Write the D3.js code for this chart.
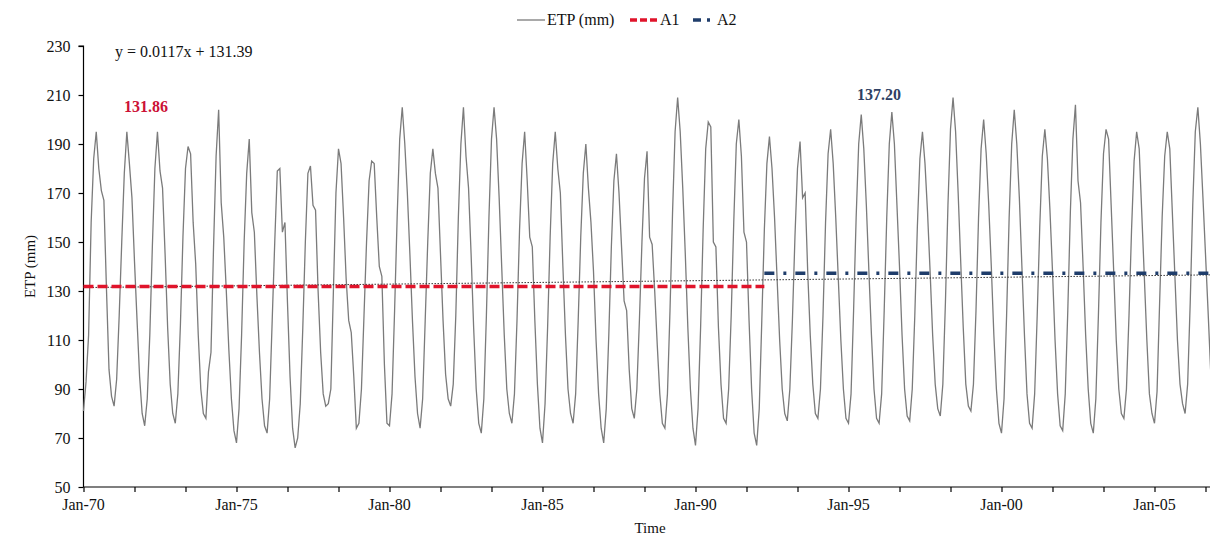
<!DOCTYPE html>
<html><head><meta charset="utf-8">
<script src="https://cdn.jsdelivr.net/npm/d3@7"></script>
<style>html,body{margin:0;padding:0;background:#fff;overflow:hidden}svg{display:block}</style>
</head><body>
<script>
// ---- data ----
const startYear = 1970;
const monthNames = ["Jan","Feb","Mar","Apr","May","Jun","Jul","Aug","Sep","Oct","Nov","Dec"];
const etp1970s = [
 [81, 93, 112, 158, 184, 195, 180, 171, 167, 131, 98, 87],
 [83, 94, 120, 150, 178, 195, 182, 168, 142, 118, 95, 80],
 [75, 86, 112, 148, 180, 195, 179, 172, 145, 115, 92, 80],
 [76, 88, 116, 152, 180, 189, 186, 158, 141, 112, 90, 80],
 [78, 97, 105, 148, 185, 204, 166, 152, 130, 106, 86, 73],
 [68, 82, 112, 150, 178, 192, 162, 154, 128, 105, 86, 75],
 [72, 86, 118, 150, 179, 180, 154, 158, 125, 95, 74, 66],
 [70, 84, 115, 150, 178, 181, 165, 163, 130, 105, 88, 83],
 [84, 90, 130, 170, 188, 182, 160, 135, 118, 113, 95, 74],
 [76, 90, 120, 150, 175, 183, 182, 160, 140, 136, 100, 76]
];
const etp1980s = [
 [75, 88, 122, 160, 192, 205, 190, 170, 145, 118, 95, 80],
 [74, 86, 118, 150, 178, 188, 178, 172, 145, 118, 96, 86],
 [83, 92, 120, 160, 190, 205, 185, 172, 145, 115, 90, 76],
 [72, 86, 120, 160, 192, 205, 192, 168, 140, 112, 90, 80],
 [76, 88, 118, 155, 182, 195, 175, 152, 148, 118, 92, 74],
 [68, 84, 115, 152, 182, 195, 180, 170, 140, 112, 90, 80],
 [76, 88, 118, 152, 178, 190, 172, 158, 138, 110, 88, 74],
 [68, 82, 112, 148, 175, 186, 170, 148, 126, 122, 98, 82],
 [78, 90, 118, 150, 176, 187, 152, 149, 130, 108, 88, 76],
 [74, 88, 122, 162, 195, 209, 195, 172, 145, 115, 90, 74]
];
const etp1990s = [
 [67, 82, 115, 155, 188, 199, 197, 150, 148, 115, 92, 78],
 [76, 90, 120, 158, 190, 200, 185, 154, 150, 118, 90, 72],
 [67, 82, 118, 155, 182, 193, 180, 160, 135, 110, 90, 80],
 [77, 90, 118, 152, 180, 191, 168, 170, 138, 112, 92, 80],
 [78, 90, 120, 158, 186, 196, 182, 160, 135, 110, 90, 78],
 [76, 88, 122, 160, 190, 202, 188, 165, 138, 112, 90, 78],
 [76, 88, 122, 160, 190, 203, 190, 165, 140, 112, 90, 79],
 [77, 90, 120, 156, 184, 195, 182, 162, 138, 112, 92, 82],
 [79, 92, 125, 165, 196, 209, 195, 170, 142, 115, 92, 83],
 [81, 92, 122, 160, 188, 200, 186, 165, 140, 112, 90, 76]
];
const etp2000s = [
 [72, 86, 120, 160, 190, 204, 190, 168, 140, 112, 88, 76],
 [74, 88, 120, 156, 185, 196, 184, 163, 138, 110, 88, 75],
 [73, 88, 122, 162, 192, 206, 175, 166, 140, 112, 90, 76],
 [72, 86, 120, 158, 186, 196, 192, 165, 138, 110, 90, 80],
 [78, 90, 120, 155, 183, 195, 188, 162, 136, 110, 88, 80],
 [76, 89, 125, 160, 185, 195, 188, 162, 136, 110, 92, 84],
 [80, 92, 125, 165, 195, 205, 190, 168, 145, 122, 98, 84]
];
const a1Value = 131.86, a2Value = 137.20;
const breakMonth = 267;           // A1 / A2 split (month index)
const trendSlope = 0.0117, trendIntercept = 131.39;
const yTicks = [50, 70, 90, 110, 130, 150, 170, 190, 210, 230];
const xTickMonths = [0,20,40,60,80,100,120,140,160,180,200,220,240,260,280,300,320,340,360,380,400,420,440];
const xLabelMonths = [0, 60, 120, 180, 240, 300, 360, 420];
const xLabels = ["Jan-70","Jan-75","Jan-80","Jan-85","Jan-90","Jan-95","Jan-00","Jan-05"];
const legendItems = ["ETP (mm)", "A1", "A2"];

// ---- build series ----
const series = [];
[etp1970s, etp1980s, etp1990s, etp2000s].flat().forEach((row) => {
  row.forEach(v => series.push({m: series.length, v}));
});
const nMonths = series.length;

// ---- chart ----
const W = 1210, H = 535;
const svg = d3.select("body").append("svg").attr("width", W).attr("height", H)
  .style("font-family", "'Liberation Serif','Times New Roman',serif");

const x = d3.scaleLinear().domain([0, 444]).range([83.5, 83.5 + 444 * 2.55]);
const y = d3.scaleLinear().domain([50, 230]).range([487, 46]);

// y axis
const yAxis = d3.axisLeft(y).tickValues(yTicks).tickSize(5).tickPadding(8).tickFormat(d3.format("d"));
const gy = svg.append("g").attr("transform", `translate(${x(0)},0)`).call(yAxis);
gy.select(".domain").attr("stroke", "#000").attr("stroke-width", 1.2).attr("d", `M-5,${y(230)}H0V${y(50)}`);
gy.selectAll(".tick line").attr("stroke", "#000").attr("stroke-width", 1.2);
gy.selectAll(".tick text").attr("font-size", 16).attr("fill", "#111").attr("font-family", "'Liberation Serif',serif");

// x axis
const xAxis = d3.axisBottom(x).tickValues(xTickMonths).tickSize(5).tickFormat("");
const gx = svg.append("g").attr("transform", `translate(0,${y(50)})`).call(xAxis);
gx.select(".domain").attr("stroke", "#000").attr("stroke-width", 1.2).attr("d", `M${x(0)},0H${x(444)}`);
gx.selectAll(".tick line").attr("stroke", "#000").attr("stroke-width", 1.2);
svg.append("g").selectAll("text").data(xLabelMonths).join("text")
  .attr("x", d => x(d)).attr("y", 510).attr("text-anchor", "middle")
  .attr("font-size", 16).attr("fill", "#111")
  .text((d, i) => xLabels[i]);

// axis titles
svg.append("text").attr("x", 650).attr("y", 533).attr("text-anchor", "middle")
  .attr("font-size", 15).attr("fill", "#111").text("Time");
svg.append("text").attr("transform", `translate(35,${(y(50)+y(230))/2}) rotate(-90)`)
  .attr("text-anchor", "middle").attr("font-size", 15).attr("fill", "#111").text("ETP (mm)");

// ETP line
const line = d3.line().x(d => x(d.m)).y(d => y(d.v));
svg.append("path").datum(series).attr("d", line)
  .attr("fill", "none").attr("stroke", "#7b7b7b").attr("stroke-width", 1.3);

// trend line
const trend = [0, nMonths - 1].map(m => ({m, v: trendSlope * (m + 1) + trendIntercept}));
svg.append("path").datum(trend).attr("d", line)
  .attr("fill", "none").attr("stroke", "#333").attr("stroke-width", 1).attr("stroke-dasharray", "1.5,1.5");

// A1 and A2
svg.append("path").datum([{m: 0, v: a1Value}, {m: breakMonth, v: a1Value}]).attr("d", line)
  .attr("fill", "none").attr("stroke", "#e0142b").attr("stroke-width", 3.5).attr("stroke-dasharray", "10,4");
svg.append("path").datum([{m: breakMonth, v: a2Value}, {m: nMonths - 1, v: a2Value}]).attr("d", line)
  .attr("fill", "none").attr("stroke", "#1f3d6b").attr("stroke-width", 3.5).attr("stroke-dasharray", "10,9,3,9");

// annotations
svg.append("text").attr("x", 115).attr("y", 57).attr("font-size", 16).attr("fill", "#111")
  .text(`y = ${trendSlope}x + ${trendIntercept}`);
svg.append("text").attr("x", 124).attr("y", 112).attr("font-size", 16).attr("font-weight", "bold")
  .attr("fill", "#cc1236").text(a1Value.toFixed(2));
svg.append("text").attr("x", 857).attr("y", 100).attr("font-size", 16).attr("font-weight", "bold")
  .attr("fill", "#2e3f63").text(a2Value.toFixed(2));

// legend
const lg = svg.append("g").attr("font-size", 16).attr("fill", "#111");
lg.append("line").attr("x1", 517).attr("x2", 545).attr("y1", 20).attr("y2", 20)
  .attr("stroke", "#7b7b7b").attr("stroke-width", 1.3);
lg.append("text").attr("x", 547).attr("y", 25).text(legendItems[0]);
lg.append("line").attr("x1", 630).attr("x2", 659).attr("y1", 20).attr("y2", 20)
  .attr("stroke", "#e0142b").attr("stroke-width", 3.5).attr("stroke-dasharray", "7,3");
lg.append("text").attr("x", 660).attr("y", 25).text(legendItems[1]);
lg.append("line").attr("x1", 693).attr("x2", 712).attr("y1", 20).attr("y2", 20)
  .attr("stroke", "#1f3d6b").attr("stroke-width", 3.5).attr("stroke-dasharray", "8,6,3,20");
lg.append("text").attr("x", 717).attr("y", 25).text(legendItems[2]);
</script>
</body></html>
